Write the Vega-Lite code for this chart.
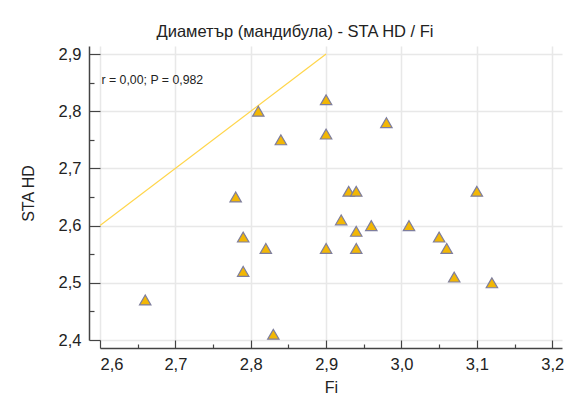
{
  "$schema": "https://vega.github.io/schema/vega-lite/v6.json",
  "width": 462,
  "height": 294,
  "autosize": {"type": "none"},
  "padding": {"left": 100, "top": 46, "right": 17, "bottom": 64},
  "background": "white",
  "config": {
    "view": {"stroke": null},
    "font": "Liberation Sans"
  },
  "title": {
    "text": "Диаметър (мандибула) - STA HD / Fi",
    "fontSize": 16.5,
    "fontWeight": "normal",
    "font": "Liberation Sans",
    "color": "#222222",
    "anchor": "middle",
    "dx": -36,
    "offset": 6
  },
  "datasets": {
    "pts": [
      {"Fi": 2.90, "STA": 2.82},
      {"Fi": 2.98, "STA": 2.78},
      {"Fi": 2.90, "STA": 2.76},
      {"Fi": 2.93, "STA": 2.66},
      {"Fi": 2.94, "STA": 2.66},
      {"Fi": 3.10, "STA": 2.66},
      {"Fi": 2.92, "STA": 2.61},
      {"Fi": 2.96, "STA": 2.60},
      {"Fi": 3.01, "STA": 2.60},
      {"Fi": 2.94, "STA": 2.59},
      {"Fi": 3.05, "STA": 2.58},
      {"Fi": 2.90, "STA": 2.56},
      {"Fi": 2.94, "STA": 2.56},
      {"Fi": 3.06, "STA": 2.56},
      {"Fi": 3.07, "STA": 2.51},
      {"Fi": 3.12, "STA": 2.50},
      {"Fi": 2.81, "STA": 2.80},
      {"Fi": 2.84, "STA": 2.75},
      {"Fi": 2.78, "STA": 2.65},
      {"Fi": 2.79, "STA": 2.58},
      {"Fi": 2.82, "STA": 2.56},
      {"Fi": 2.79, "STA": 2.52},
      {"Fi": 2.66, "STA": 2.47},
      {"Fi": 2.83, "STA": 2.41}
    ],
    "line": [
      {"Fi": 2.6, "STA": 2.6},
      {"Fi": 2.9, "STA": 2.9}
    ],
    "note": [
      {"Fi": 2.602, "STA": 2.855, "label": "r = 0,00; P = 0,982"}
    ]
  },
  "resolve": {"axis": {"x": "independent", "y": "independent"}},
  "layer": [
    {
      "data": {"name": "line"},
      "mark": {"type": "line", "color": "#FFD54A", "strokeWidth": 1.2, "clip": true},
      "encoding": {
        "x": {
          "field": "Fi", "type": "quantitative",
          "scale": {"domain": [2.6, 3.213], "nice": false, "zero": false},
          "axis": {
            "orient": "bottom",
            "values": [2.65, 2.75, 2.85, 2.95, 3.05, 3.15],
            "labels": false, "grid": false, "domain": false,
            "tickSize": -4, "offset": 8, "tickColor": "#444444", "tickWidth": 1.2,
            "title": null
          }
        },
        "y": {
          "field": "STA", "type": "quantitative",
          "scale": {"domain": [2.4, 2.914], "nice": false, "zero": false},
          "axis": {
            "orient": "left",
            "values": [2.45, 2.55, 2.65, 2.75, 2.85],
            "labels": false, "grid": false, "domain": false,
            "tickSize": -5, "offset": 11, "tickColor": "#444444", "tickWidth": 1.2,
            "title": null
          }
        }
      }
    },
    {
      "data": {"name": "pts"},
      "mark": {
        "type": "point", "shape": "triangle-up", "filled": true,
        "size": 130, "fill": "#F2B705", "stroke": "#7E7E9E", "strokeWidth": 1.2, "opacity": 1
      },
      "encoding": {
        "x": {
          "field": "Fi", "type": "quantitative",
          "axis": {
            "orient": "bottom",
            "values": [2.6, 2.7, 2.8, 2.9, 3.0, 3.1, 3.2],
            "labelExpr": "replace(format(datum.value, '.1f'), '.', ',')",
            "grid": true, "gridColor": "#E8E8E8", "gridWidth": 1.5,
            "domainColor": "#444444", "domainWidth": 1.5,
            "tickColor": "#444444", "tickWidth": 1.2, "tickSize": -8, "offset": 8,
            "labelFontSize": 16.5, "labelColor": "#222222", "labelPadding": 16,
            "labelFont": "Liberation Sans",
            "title": "Fi", "titleFontSize": 16, "titleFontWeight": "normal",
            "titleColor": "#222222", "titlePadding": 7, "titleFont": "Liberation Sans"
          }
        },
        "y": {
          "field": "STA", "type": "quantitative",
          "axis": {
            "orient": "left",
            "values": [2.4, 2.5, 2.6, 2.7, 2.8, 2.9],
            "labelExpr": "replace(format(datum.value, '.1f'), '.', ',')",
            "grid": true, "gridColor": "#E8E8E8", "gridWidth": 1.5,
            "domainColor": "#444444", "domainWidth": 1.5,
            "tickColor": "#444444", "tickWidth": 1.2, "tickSize": -11, "offset": 11,
            "labelFontSize": 16.5, "labelColor": "#222222", "labelPadding": 19,
            "labelFont": "Liberation Sans",
            "title": "STA HD", "titleFontSize": 16, "titleFontWeight": "normal",
            "titleColor": "#222222", "titlePadding": 22, "titleFont": "Liberation Sans"
          }
        }
      }
    },
    {
      "data": {"name": "note"},
      "mark": {"type": "text", "align": "left", "baseline": "middle", "fontSize": 12.3, "font": "Liberation Sans", "color": "#222222"},
      "encoding": {
        "x": {"field": "Fi", "type": "quantitative", "axis": null},
        "y": {"field": "STA", "type": "quantitative", "axis": null},
        "text": {"field": "label"}
      }
    }
  ]
}
